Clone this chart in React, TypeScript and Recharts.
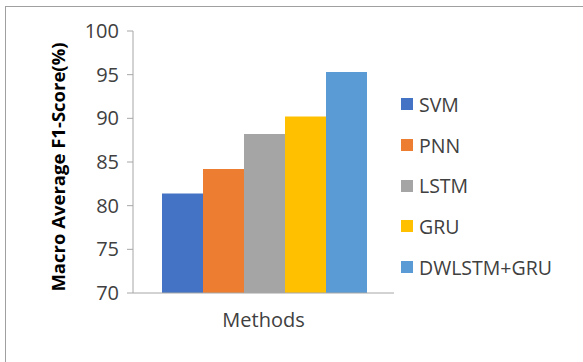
import { Bar, BarChart, Legend, XAxis, YAxis } from 'recharts';

const categories = ['Methods'];
const methods = ['SVM', 'PNN', 'LSTM', 'GRU', 'DWLSTM+GRU'];
const scores = [81.4, 84.2, 88.2, 90.2, 95.3];
const colors = ['#4472C4', '#ED7D31', '#A5A5A5', '#FFC000', '#5B9BD5'];
const yTicks = [70, 75, 80, 85, 90, 95, 100];

const FONT = '"Open Sans", sans-serif';

const data = categories.map((name) => {
  const row: Record<string, string | number> = { name };
  methods.forEach((m, i) => {
    row[m] = scores[i];
  });
  return row;
});

function LegendBox() {
  return (
    <div style={{ fontFamily: FONT, fontSize: 19.5, color: '#404040' }}>
      {methods.map((m, i) => (
        <div
          key={m}
          style={{ display: 'flex', alignItems: 'center', height: 40.7 }}
        >
          <span
            style={{
              display: 'inline-block',
              width: 12,
              height: 12,
              background: colors[i],
              marginRight: 6,
            }}
          />
          <span>{m}</span>
        </div>
      ))}
    </div>
  );
}

function YLabel(props: any) {
  const vb = props.viewBox;
  const cx = vb.x - 16;
  const cy = vb.y + vb.height / 2 + 5;
  return (
    <text
      x={cx}
      y={cy}
      transform={`rotate(-90, ${cx}, ${cy})`}
      textAnchor="middle"
      dominantBaseline="central"
      fontFamily={FONT}
      fontWeight="bold"
      fontSize={18.5}
      fill="#000"
    >
      Macro Average F1-Score(%)
    </text>
  );
}

export default function App() {
  return (
    <div
      style={{
        position: 'absolute',
        left: 0,
        top: 0,
        width: 583,
        height: 362,
        overflow: 'hidden',
        background: '#fff',
      }}
    >
      <div
        style={{
          position: 'absolute',
          left: 5,
          top: 6,
          width: 700,
          height: 500,
          border: '1px solid #a0a0a0',
        }}
      />
      <div style={{ position: 'absolute', left: 0, top: 0 }}>
        <BarChart
          width={583}
          height={362}
          data={data}
          margin={{ top: 31, right: 189, left: 73, bottom: 39 }}
          barCategoryGap={29}
          barGap={0}
        >
          <XAxis dataKey="name" hide height={0} />
          <XAxis
            xAxisId="edges"
            type="number"
            domain={[0, 1]}
            ticks={[0, 1]}
            tick={false}
            tickSize={8}
            height={30}
            stroke="#a6a6a6"
            label={{
              value: 'Methods',
              position: 'insideTop',
              offset: 20,
              fill: '#404040',
              fontSize: 20,
              fontFamily: FONT,
            }}
          />
          <YAxis
            width={60}
            domain={[70, 100]}
            ticks={yTicks}
            interval={0}
            tickSize={6}
            tickMargin={8}
            stroke="#a6a6a6"
            tick={{ fill: '#404040', fontSize: 20, fontFamily: FONT }}
            label={<YLabel />}
          />
          <Legend
            layout="vertical"
            align="center"
            verticalAlign="middle"
            wrapperStyle={{ left: 401, top: 84, width: 180 }}
            content={<LegendBox />}
          />
          {methods.map((m, i) => (
            <Bar
              key={m}
              dataKey={m}
              fill={colors[i]}
              isAnimationActive={false}
            />
          ))}
        </BarChart>
      </div>
    </div>
  );
}
